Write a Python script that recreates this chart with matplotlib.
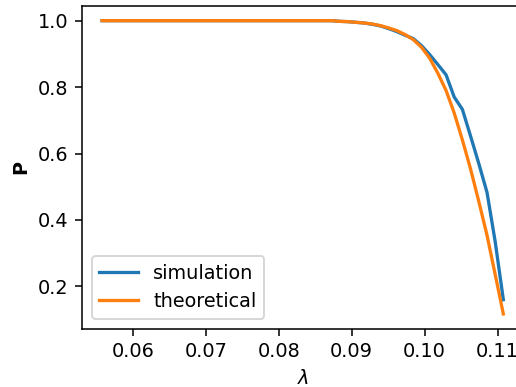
import matplotlib
matplotlib.use('Agg')
from matplotlib import pyplot as plt

# lambda values
lam = [0.05575, 0.05687, 0.05800, 0.05912, 0.06024, 0.06137, 0.06249, 0.06361,
       0.06474, 0.06586, 0.06699, 0.06811, 0.06923, 0.07036, 0.07148, 0.07260,
       0.07373, 0.07485, 0.07597, 0.07710, 0.07822, 0.07934, 0.08047, 0.08159,
       0.08271, 0.08384, 0.08496, 0.08608, 0.08721, 0.08833, 0.08946, 0.09058,
       0.09170, 0.09283, 0.09395, 0.09507, 0.09620, 0.09732, 0.09844, 0.09957,
       0.10069, 0.10181, 0.10294, 0.10406, 0.10518, 0.10631, 0.10743, 0.10856,
       0.10968, 0.11080]

p_simulation = [1.0] * 29 + [0.998, 0.997, 0.995, 0.993, 0.989, 0.984, 0.976,
                             0.967, 0.956, 0.946, 0.925, 0.898, 0.868, 0.837,
                             0.770, 0.733, 0.652, 0.570, 0.483, 0.335, 0.160]

p_theoretical = [1.0] * 29 + [0.998, 0.997, 0.995, 0.993, 0.990, 0.985, 0.978,
                              0.970, 0.958, 0.943, 0.920, 0.887, 0.842, 0.790,
                              0.722, 0.641, 0.553, 0.456, 0.354, 0.236, 0.117]

dpi = 139
fig = plt.figure(figsize=(516 / dpi, 387 / dpi), dpi=dpi)
ax = fig.add_axes([82 / 516, 58.4 / 387, 441.4 / 516, 322.6 / 387])

ax.plot(lam, p_simulation, lw=1.7, label='simulation')
ax.plot(lam, p_theoretical, lw=1.7, label='theoretical')
ax.set_xlabel(r'$\lambda$')
ax.set_ylabel('P', fontweight='bold')
ax.legend(loc='lower left')

fig.savefig('out.png', dpi=dpi)
